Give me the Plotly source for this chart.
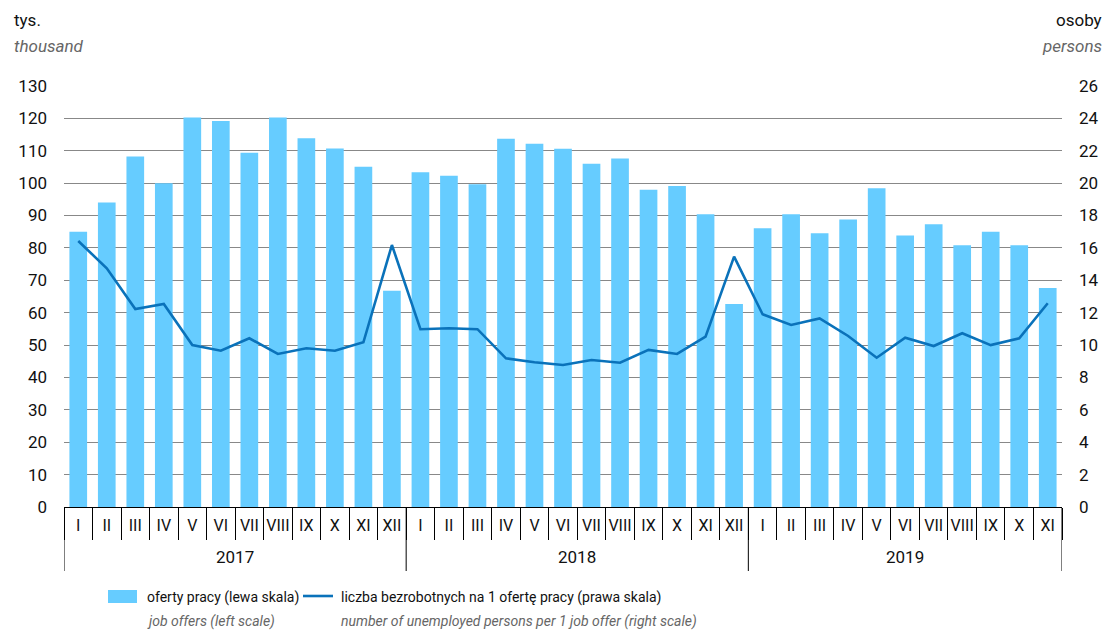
import plotly.graph_objects as go

years = ["2017", "2018", "2019"]
months = ["I", "II", "III", "IV", "V", "VI", "VII", "VIII", "IX", "X", "XI", "XII"]
months_per_year = [12, 12, 11]

job_offers = [
    85.0, 94.0, 108.2, 100.0, 120.3, 119.2, 109.4, 120.3, 113.9, 110.7, 105.1, 66.8,
    103.4, 102.3, 99.7, 113.7, 112.2, 110.6, 106.0, 107.6, 98.0, 99.1, 90.4, 62.7,
    86.1, 90.4, 84.5, 88.8, 98.4, 83.8, 87.3, 80.8, 85.0, 80.8, 67.6,
]
unemployed_per_offer = [
    16.43, 14.74, 12.23, 12.54, 10.0, 9.65, 10.42, 9.45, 9.80, 9.65, 10.17, 16.18,
    10.98, 11.04, 10.98, 9.18, 8.94, 8.77, 9.08, 8.91, 9.70, 9.45, 10.52, 15.46,
    11.90, 11.24, 11.65, 10.56, 9.22, 10.46, 9.94, 10.73, 10.0, 10.42, 12.58,
]

left_ticks = list(range(0, 131, 10))
right_ticks = list(range(0, 27, 2))

# month labels for each observation, index positions on a linear x axis
x_month = []
for n in months_per_year:
    x_month += months[:n]
x_idx = list(range(len(x_month)))

# year boundaries and centres derived from months_per_year
bounds = [-0.5]
for n in months_per_year:
    bounds.append(bounds[-1] + n)
centres = [(bounds[i] + bounds[i + 1]) / 2 for i in range(len(years))]

BAR = "#66CCFF"
LINE = "#0A72BA"
FONT = "Roboto, Open Sans, sans-serif"

W, H = 1111, 632
ML, MR, MT, MB = 64, 49, 86, 125
PW = W - ML - MR
PH = H - MT - MB


def px_x(px):
    return (px - ML) / PW


def px_y(py):
    return (H - MB - py) / PH


fig = go.Figure()
fig.add_trace(go.Bar(x=x_idx, y=job_offers, marker_color=BAR,
                     marker_line_width=0, name="oferty pracy", yaxis="y"))
fig.add_trace(go.Scatter(x=x_idx, y=unemployed_per_offer, mode="lines",
                         line=dict(color=LINE, width=2.6), name="liczba", yaxis="y2"))

fig.update_layout(
    width=W, height=H,
    margin=dict(l=ML, r=MR, t=MT, b=MB),
    plot_bgcolor="white", paper_bgcolor="white",
    showlegend=False,
    bargap=0.38,
    font=dict(family=FONT, size=17, color="#111"),
    xaxis=dict(
        range=[bounds[0], bounds[-1]], automargin=False,
        tickmode="array", tickvals=x_idx, ticktext=x_month, ticks="",
        tickfont=dict(size=16), tickangle=0, ticklabelstandoff=4,
        minor=dict(tickmode="linear", tick0=-0.5, dtick=1, ticks="outside",
                   ticklen=32, tickcolor="black", tickwidth=1, showgrid=False),
        showline=True, linecolor="black", linewidth=1.2,
        showgrid=False, zeroline=False,
    ),
    yaxis=dict(
        range=[0, 130], tickvals=left_ticks, showgrid=True, gridcolor="#888888", gridwidth=1.3,
        zeroline=False, showline=False, ticklabelstandoff=16, tickfont=dict(size=17),
        automargin=False,
    ),
    yaxis2=dict(
        range=[0, 26], tickvals=right_ticks, overlaying="y", side="right", showgrid=False,
        zeroline=False, showline=False, ticklabelstandoff=16, tickfont=dict(size=17),
        automargin=False,
    ),
)

ann = [
    dict(text="tys.", x=12, y=20, xanchor="left", font=dict(size=17, color="#111")),
    dict(text="<i>thousand</i>", x=12, y=46, xanchor="left", font=dict(size=17, color="#666")),
    dict(text="osoby", x=1104, y=20, xanchor="right", font=dict(size=17, color="#111")),
    dict(text="<i>persons</i>", x=1104, y=46, xanchor="right", font=dict(size=17, color="#666")),
    dict(text="oferty pracy (lewa skala)", x=145, y=597, xanchor="left", font=dict(size=14, color="#111")),
    dict(text="<i>job offers (left scale)</i>", x=145, y=621, xanchor="left", font=dict(size=14, color="#666")),
    dict(text="liczba bezrobotnych na 1 ofertę pracy (prawa skala)", x=339, y=597, xanchor="left", font=dict(size=14, color="#111")),
    dict(text="<i>number of unemployed persons per 1 job offer (right scale)</i>", x=339, y=621, xanchor="left", font=dict(size=14, color="#666")),
]
annotations = []
for a in ann:
    a = dict(a)
    a["x"] = px_x(a["x"])
    a["y"] = px_y(a["y"])
    a.update(xref="paper", yref="paper", showarrow=False, yanchor="middle")
    annotations.append(a)

# year labels under the month row
for yr, c in zip(years, centres):
    annotations.append(dict(text=yr, x=c, xref="x", y=px_y(557), yref="paper", yanchor="middle",
                            showarrow=False, font=dict(size=17, color="#111")))

shapes = [
    dict(type="rect", xref="paper", yref="paper", x0=px_x(108), x1=px_x(137), y0=px_y(603), y1=px_y(590),
         fillcolor=BAR, line_width=0),
    dict(type="line", xref="paper", yref="paper", x0=px_x(303), x1=px_x(333), y0=px_y(596), y1=px_y(596),
         line=dict(color=LINE, width=2.6)),
]
# year dividers
for b in bounds:
    shapes.append(dict(type="line", xref="x", yref="paper", x0=b, x1=b, y0=0, y1=px_y(571),
                       line=dict(color="black", width=1)))

fig.update_layout(annotations=annotations, shapes=shapes)

fig.write_html("out.html", config={"displayModeBar": False},
               post_script="document.body.style.margin='0';document.body.style.overflow='hidden';")
